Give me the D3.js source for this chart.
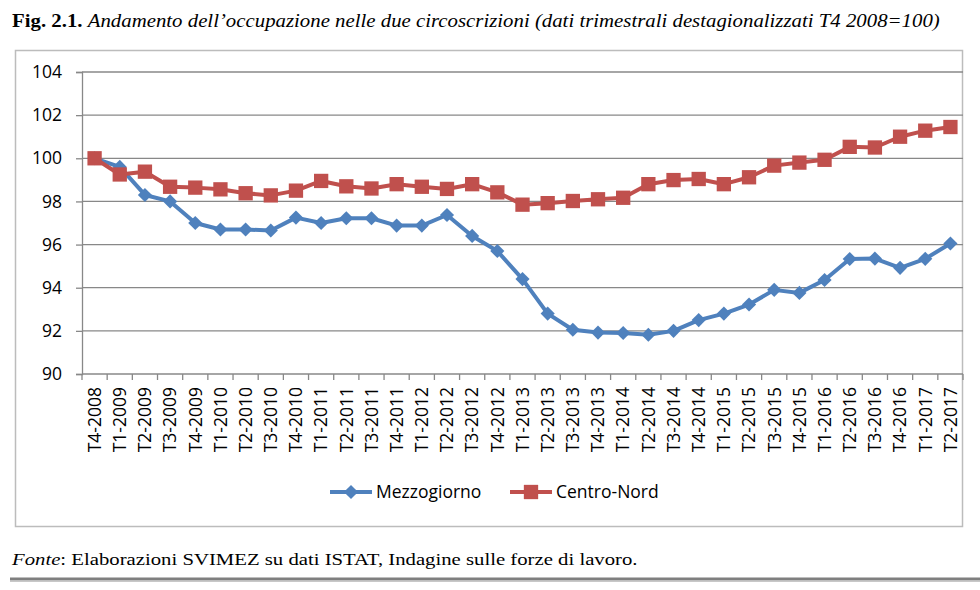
<!DOCTYPE html>
<html>
<head>
<meta charset="utf-8">
<script src="https://cdn.jsdelivr.net/npm/d3@7"></script>
<style>
  body { margin: 0; background: #fff; }
  svg { display: block; }
</style>
</head>
<body>
<svg id="chart" width="980" height="590"></svg>
<script>
'use strict';

var categories = [
'T4-2008',
'T1-2009', 'T2-2009', 'T3-2009', 'T4-2009',
'T1-2010', 'T2-2010', 'T3-2010', 'T4-2010',
'T1-2011', 'T2-2011', 'T3-2011', 'T4-2011',
'T1-2012', 'T2-2012', 'T3-2012', 'T4-2012',
'T1-2013', 'T2-2013', 'T3-2013', 'T4-2013',
'T1-2014', 'T2-2014', 'T3-2014', 'T4-2014',
'T1-2015', 'T2-2015', 'T3-2015', 'T4-2015',
'T1-2016', 'T2-2016', 'T3-2016', 'T4-2016',
'T1-2017', 'T2-2017'
];

var mezzogiorno = [
100.0,
99.6, 98.3, 98.0, 97.0,
96.7, 96.7, 96.65, 97.25,
97.0, 97.22, 97.22, 96.88,
96.88, 97.37, 96.4, 95.7,
94.4, 92.8, 92.05, 91.92,
91.9, 91.82, 92.0, 92.5,
92.8, 93.22, 93.9, 93.76,
94.36, 95.33, 95.35, 94.92,
95.34, 96.05
];

var centroNord = [
100.0,
99.25, 99.38, 98.68, 98.64,
98.56, 98.38, 98.28, 98.5,
98.95, 98.7, 98.6, 98.8,
98.68, 98.58, 98.8, 98.42,
97.85, 97.92, 98.02, 98.1,
98.17, 98.8, 98.99, 99.04,
98.8, 99.12, 99.66, 99.8,
99.93, 100.53, 100.5, 101.0,
101.28, 101.45
];

var yTicks = [90, 92, 94, 96, 98, 100, 102, 104];

var blue = '#4f81bd', red = '#c0504d';
var font = '"Open Sans", sans-serif';

var svg = d3.select('#chart');

var plotL = 82, plotR = 963, plotT = 72, plotB = 374;

var x = d3.scaleBand()
    .domain(categories)
    .range([plotL, plotR])
    .padding(0);

var y = d3.scaleLinear()
    .domain([90, 104])
    .range([plotB, plotT]);

// title (serif, bold prefix + italic text), squeezed to the reference width
var title = svg.append('text')
    .attr('font-family', '"Liberation Serif", "Times New Roman", serif')
    .attr('font-size', 18.5)
    .attr('fill', '#000');
title.append('tspan').attr('font-weight', 'bold').text('Fig. 2.1. ');
title.append('tspan').attr('font-style', 'italic')
    .text('Andamento dell\u2019occupazione nelle due circoscrizioni (dati trimestrali destagionalizzati T4 2008=100)');
var tl = title.node().getComputedTextLength();
title.attr('transform', 'translate(12,27) scale(' + (928 / tl) + ',1)');

// chart frame
svg.append('rect')
    .attr('x', 15.5).attr('y', 50.5)
    .attr('width', 947).attr('height', 476)
    .attr('fill', 'none')
    .attr('stroke', '#bcbcbc')
    .attr('stroke-width', 1.5);

// gridlines
svg.append('g')
    .selectAll('line')
    .data(yTicks)
  .enter().append('line')
    .attr('x1', plotL).attr('x2', plotR)
    .attr('y1', function(d) { return y(d); })
    .attr('y2', function(d) { return y(d); })
    .attr('stroke', '#888')
    .attr('stroke-width', 1.3);

// y axis
var yAxis = svg.append('g')
    .attr('transform', 'translate(' + plotL + ',0)')
    .call(d3.axisLeft(y).tickValues(yTicks).tickSize(6).tickPadding(14).tickFormat(d3.format('d')));
yAxis.select('.domain').attr('stroke', '#888').attr('stroke-width', 1.3);
yAxis.selectAll('.tick line').attr('stroke', '#888').attr('stroke-width', 1.3);
yAxis.selectAll('.tick text')
    .attr('font-family', font).attr('font-size', 17.5).attr('fill', '#000');

// x axis: ticks at category boundaries
var bounds = categories.map(function(c) { return x(c); }).concat([plotR]);
svg.append('g')
    .selectAll('line')
    .data(bounds)
  .enter().append('line')
    .attr('x1', function(d) { return d; }).attr('x2', function(d) { return d; })
    .attr('y1', plotB).attr('y2', plotB + 6)
    .attr('stroke', '#888')
    .attr('stroke-width', 1.3);

svg.append('g')
    .selectAll('text')
    .data(categories)
  .enter().append('text')
    .attr('transform', function(d) {
      return 'translate(' + (x(d) + x.bandwidth() / 2) + ',' + (plotB + 13) + ') rotate(-90)';
    })
    .attr('dy', '0.36em')
    .attr('text-anchor', 'end')
    .attr('font-family', font)
    .attr('font-size', 17.5)
    .attr('fill', '#000')
    .text(function(d) { return d; });

// series
var series = [
  { name: 'Mezzogiorno', values: mezzogiorno, color: blue, shape: 'diamond' },
  { name: 'Centro-Nord', values: centroNord, color: red, shape: 'square' }
];

var line = d3.line()
    .x(function(d, i) { return x(categories[i]) + x.bandwidth() / 2; })
    .y(function(d) { return y(d); });

var squareSym = d3.symbol().type(d3.symbolSquare).size(205);
var diamondSym = d3.symbol().type(d3.symbolSquare).size(100);

function marker(g, s, cx, cy) {
  if (s.shape === 'square') {
    g.append('path')
      .attr('d', squareSym())
      .attr('transform', 'translate(' + cx + ',' + cy + ')')
      .attr('fill', s.color);
  } else {
    g.append('path')
      .attr('d', diamondSym())
      .attr('transform', 'translate(' + cx + ',' + cy + ') rotate(45)')
      .attr('fill', s.color);
  }
}

series.forEach(function(s) {
  var g = svg.append('g');
  g.append('path')
    .datum(s.values)
    .attr('d', line)
    .attr('fill', 'none')
    .attr('stroke', s.color)
    .attr('stroke-width', 4)
    .attr('stroke-linejoin', 'round');
  s.values.forEach(function(v, i) {
    marker(g, s, x(categories[i]) + x.bandwidth() / 2, y(v));
  });
});

// legend
var legendX = [330, 510];
series.forEach(function(s, i) {
  var g = svg.append('g').attr('transform', 'translate(' + legendX[i] + ',492)');
  g.append('line')
    .attr('x1', 0).attr('x2', 42)
    .attr('stroke', s.color)
    .attr('stroke-width', 4);
  marker(g, s, 21, 0);
  g.append('text')
    .attr('x', 46)
    .attr('dy', '0.35em')
    .attr('font-family', font)
    .attr('font-size', 17.5)
    .attr('fill', '#000')
    .text(s.name);
});

// source note
var fonte = svg.append('text')
    .attr('font-family', '"Liberation Serif", "Times New Roman", serif')
    .attr('font-size', 17)
    .attr('fill', '#000');
fonte.append('tspan').attr('font-style', 'italic').text('Fonte');
fonte.append('tspan').text(': Elaborazioni SVIMEZ su dati ISTAT, Indagine sulle forze di lavoro.');
var fl = fonte.node().getComputedTextLength();
fonte.attr('transform', 'translate(12,565) scale(' + (626 / fl) + ',1)');

svg.append('line')
    .attr('x1', 10).attr('x2', 980)
    .attr('y1', 579).attr('y2', 579)
    .attr('stroke', '#7f7f7f')
    .attr('stroke-width', 3);
svg.append('line')
    .attr('x1', 10).attr('x2', 980)
    .attr('y1', 581.5).attr('y2', 581.5)
    .attr('stroke', '#c8c8c8')
    .attr('stroke-width', 1);
</script>
</body>
</html>
